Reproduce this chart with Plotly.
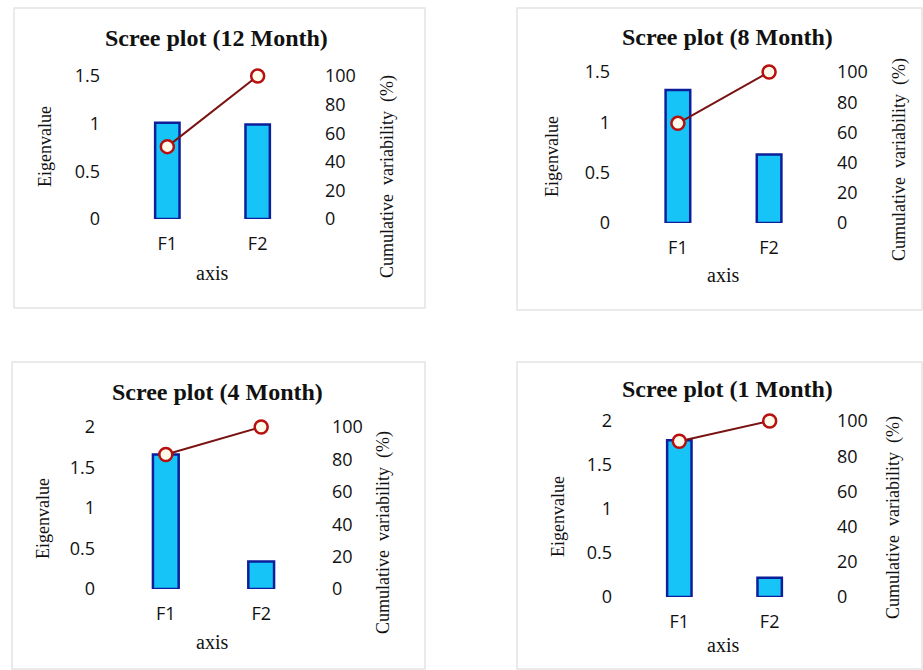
import plotly.graph_objects as go

W, H = 923, 670

panel_titles = ["Scree plot (12 Month)", "Scree plot (8 Month)", "Scree plot (4 Month)", "Scree plot (1 Month)"]
factors = ["F1", "F2"]
eig_12 = [1.01, 0.99]
cum_12 = [50.6, 100]
eig_8 = [1.32, 0.68]
cum_8 = [66.0, 100]
eig_4 = [1.66, 0.34]
cum_4 = [83.0, 100]
eig_1 = [1.78, 0.22]
cum_1 = [88.5, 100]
eig_max = [1.5, 1.5, 2, 2]
cum_ticks = [0, 20, 40, 60, 80, 100]

eigs = [eig_12, eig_8, eig_4, eig_1]
cums = [cum_12, cum_8, cum_4, cum_1]

# layout geometry in pixels: (plot x0, x1, y_top, y_bottom)
geom = [(105, 320, 76, 219), (615, 832, 72, 223), (100, 327, 427, 589), (617, 832, 421, 597)]
title_pos = [(216, 38), (727, 37), (217, 392), (727, 389)]
eig_title_pos = [(45, 147), (552, 157), (43, 519), (558, 517)]
cum_title_pos = [(387, 177), (899, 160), (383, 533), (893, 518)]
axis_title_pos = [(212, 273), (723, 275), (212, 642), (723, 645)]
panel_boxes = [(14, 8, 425, 308), (517, 8, 922, 310), (12, 362, 425, 669), (517, 362, 922, 669)]


def px(x):
    return x / W


def py(y):
    return 1 - y / H


fig = go.Figure()
layout = dict(
    width=W, height=H, margin=dict(l=0, r=0, t=0, b=0, pad=0, autoexpand=False),
    paper_bgcolor="white", plot_bgcolor="rgba(0,0,0,0)",
    showlegend=False, annotations=[], shapes=[],
)

tick_font = dict(family="Open Sans, sans-serif", size=18, color="#111")
serif = "Liberation Serif, Times New Roman, serif"

for i in range(4):
    n = i + 1
    xa = "x" if n == 1 else f"x{n}"
    yl = 2 * n - 1
    yr = 2 * n
    yla = "y" if yl == 1 else f"y{yl}"
    yra = f"y{yr}"
    x0, x1, yt, yb = geom[i]

    fig.add_trace(go.Bar(
        x=factors, y=eigs[i], xaxis=xa, yaxis=yla, width=0.27,
        marker=dict(color="#17C4F7", line=dict(color="#0D1E9A", width=2.5)),
    ))
    fig.add_trace(go.Scatter(
        x=factors, y=cums[i], xaxis=xa, yaxis=yra, mode="lines+markers",
        line=dict(color="#7A1212", width=2),
        marker=dict(symbol="circle", size=13, color="#FFFBEA", line=dict(color="#B80F0F", width=2.5)),
        cliponaxis=False,
    ))

    xkey = "xaxis" if n == 1 else f"xaxis{n}"
    ylkey = "yaxis" if yl == 1 else f"yaxis{yl}"
    yrkey = f"yaxis{yr}"
    layout[xkey] = dict(
        domain=[px(x0), px(x1)], anchor=yla, type="category", range=[-0.69, 1.69],
        showgrid=False, zeroline=False, showline=False, ticks="", automargin=False,
        tickfont=tick_font, ticklabelstandoff=12,
    )
    layout[ylkey] = dict(
        domain=[py(yb), py(yt)], anchor=xa, range=[0, eig_max[i]], dtick=0.5,
        showgrid=False, zeroline=False, showline=False, ticks="", automargin=False,
        tickfont=tick_font, ticklabelstandoff=4,
    )
    layout[yrkey] = dict(
        domain=[py(yb), py(yt)], anchor=xa, overlaying=yla, side="right",
        range=[0, 100], tickvals=cum_ticks, automargin=False,
        showgrid=False, zeroline=False, showline=False, ticks="",
        tickfont=tick_font, ticklabelstandoff=4,
    )

    tx, ty = title_pos[i]
    layout["annotations"].append(dict(
        text=f"<b>{panel_titles[i]}</b>", x=px(tx), y=py(ty), xref="paper", yref="paper",
        showarrow=False, xanchor="center", yanchor="middle",
        font=dict(family=serif, size=24, color="#111"),
    ))
    ex, ey = eig_title_pos[i]
    layout["annotations"].append(dict(
        text="Eigenvalue", x=px(ex), y=py(ey), xref="paper", yref="paper", textangle=-90,
        showarrow=False, xanchor="center", yanchor="middle",
        font=dict(family=serif, size=18, color="#111"),
    ))
    cx, cy = cum_title_pos[i]
    layout["annotations"].append(dict(
        text="Cumulative  variability  (%)", x=px(cx), y=py(cy), xref="paper", yref="paper",
        textangle=-90, showarrow=False, xanchor="center", yanchor="middle",
        font=dict(family=serif, size=18, color="#111"),
    ))
    ax, ay = axis_title_pos[i]
    layout["annotations"].append(dict(
        text="axis", x=px(ax), y=py(ay), xref="paper", yref="paper",
        showarrow=False, xanchor="center", yanchor="middle",
        font=dict(family=serif, size=20, color="#111"),
    ))
    bx0, by0, bx1, by1 = panel_boxes[i]
    layout["shapes"].append(dict(
        type="rect", xref="paper", yref="paper",
        x0=px(bx0), x1=px(bx1), y0=py(by1), y1=py(by0),
        line=dict(color="#E4E4E4", width=1.5), fillcolor="rgba(0,0,0,0)", layer="below",
    ))

fig.update_layout(**layout)
fig.write_html(
    "out.html",
    config={"displayModeBar": False},
    post_script="document.body.style.margin='0';document.body.style.padding='0';",
)
